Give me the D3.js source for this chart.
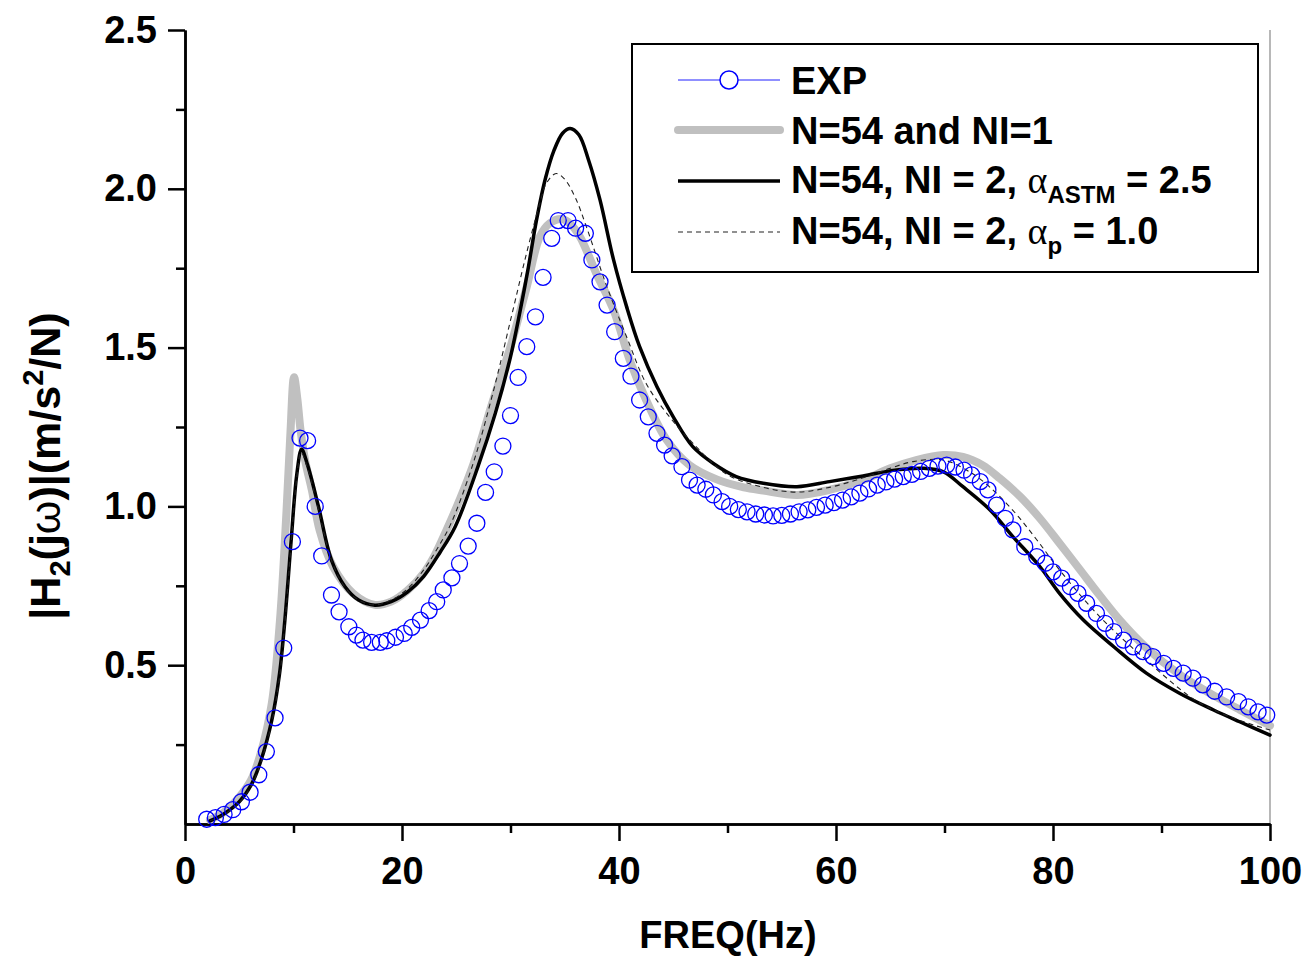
<!DOCTYPE html>
<html>
<head>
<meta charset="utf-8">
<script src="https://cdn.jsdelivr.net/npm/d3@7"></script>
<style>
  body { margin: 0; background: #fff; }
  svg { display: block; font-family: "Liberation Sans", Arial, sans-serif; font-weight: bold; }
</style>
</head>
<body>
<div id="chart"></div>
<script>
// Measured EXP points (frequency in Hz, magnitude).
const expFreq = [2.0, 2.8, 3.6, 4.4, 5.2, 6.0, 6.8, 7.5, 8.3, 9.1, 9.9, 10.6, 11.3, 12.0, 12.6, 13.5, 14.2, 15.1, 15.8, 16.4,
  17.2, 18.0, 18.6, 19.4, 20.2, 20.9, 21.7, 22.5, 23.2, 23.8, 24.6, 25.3, 26.1, 26.9, 27.7, 28.5, 29.3, 30.0, 30.7, 31.5,
  32.3, 33.0, 33.8, 34.4, 35.3, 36.0, 36.9, 37.5, 38.25, 38.9, 39.6, 40.4, 41.1, 41.9, 42.7, 43.5, 44.2, 44.9, 45.8, 46.5,
  47.2, 48.0, 48.7, 49.5, 50.2, 51.0, 51.8, 52.6, 53.4, 54.2, 55.0, 55.8, 56.6, 57.4, 58.2, 59.0, 59.8, 60.6, 61.4, 62.2,
  63.0, 63.8, 64.6, 65.4, 66.2, 67.0, 67.8, 68.6, 69.4, 70.2, 71.0, 71.8, 72.5, 73.3, 74.0, 74.8, 75.6, 76.3, 77.4, 78.5,
  79.3, 80.0, 80.8, 81.6, 82.3, 83.1, 84.0, 84.8, 85.6, 86.5, 87.4, 88.3, 89.2, 90.2, 91.1, 92.0, 92.9, 93.8, 94.9, 96.0,
  97.1, 98.0, 98.9, 99.7];
const expMag = [0.015, 0.02, 0.03, 0.045, 0.07, 0.10, 0.155, 0.228, 0.334, 0.554, 0.889, 1.215, 1.207, 1.0, 0.844, 0.721, 0.668, 0.621, 0.595, 0.579,
  0.572, 0.572, 0.577, 0.588, 0.600, 0.619, 0.642, 0.672, 0.70, 0.737, 0.775, 0.82, 0.875, 0.947, 1.044, 1.109, 1.19, 1.286, 1.406, 1.503,
  1.597, 1.721, 1.844, 1.90, 1.90, 1.876, 1.86, 1.776, 1.707, 1.634, 1.55, 1.466, 1.41, 1.335, 1.282, 1.23, 1.193, 1.159, 1.125, 1.083,
  1.067, 1.054, 1.036, 1.015, 1.0, 0.99, 0.983, 0.976, 0.973, 0.970, 0.972, 0.976, 0.983, 0.989, 0.997, 1.004, 1.012, 1.02, 1.03, 1.042,
  1.055, 1.067, 1.077, 1.086, 1.094, 1.101, 1.11, 1.12, 1.127, 1.13, 1.124, 1.114, 1.099, 1.078, 1.052, 1.004, 0.962, 0.926, 0.873, 0.842,
  0.821, 0.794, 0.774, 0.747, 0.726, 0.695, 0.663, 0.632, 0.606, 0.579, 0.558, 0.543, 0.527, 0.506, 0.49, 0.475, 0.459, 0.438, 0.418, 0.40,
  0.385, 0.369, 0.353, 0.343];

// N=54 and NI=1 (thick grey).
const ni1Freq = [2.3, 3.5, 5.0, 6.1, 7.0, 8.0, 8.75, 9.3, 9.7, 10.05, 10.35, 10.65, 11.1, 11.7, 12.4, 13.65, 15.5, 17.5, 19.0, 20.5,
  22.0, 23.0, 24.1, 25.3, 26.6, 28.4, 30.0, 31.5, 32.7, 33.6, 34.7, 35.5, 36.4, 37.9, 39.5, 41.0, 42.5, 44.4, 46.5, 49.0,
  51.5, 53.3, 56.4, 59.4, 62.5, 65.0, 67.4, 69.9, 71.7, 73.5, 75.1, 77.0, 78.8, 80.6, 82.5, 84.3, 86.2, 88.6, 91.7, 94.8,
  97.2, 100];
const ni1Mag = [0.013, 0.035, 0.085, 0.139, 0.225, 0.38, 0.64, 0.95, 1.22, 1.407, 1.34, 1.24, 1.14, 1.05, 0.926, 0.81, 0.726, 0.69, 0.70, 0.735,
  0.79, 0.845, 0.925, 1.02, 1.135, 1.334, 1.503, 1.692, 1.849, 1.891, 1.905, 1.89, 1.849, 1.734, 1.618, 1.46, 1.335, 1.209, 1.13, 1.085,
  1.06, 1.05, 1.036, 1.052, 1.083, 1.12, 1.146, 1.162, 1.156, 1.13, 1.088, 1.03, 0.962, 0.884, 0.80, 0.72, 0.64, 0.555, 0.47, 0.405,
  0.36, 0.31];

// N=54, NI = 2, alpha_ASTM = 2.5 (solid black).
const astmFreq = [2.3, 3.5, 5.0, 6.1, 7.0, 8.0, 8.7, 9.2, 9.8, 10.3, 10.75, 11.3, 12.3, 13.5, 14.75, 16.0, 17.5, 19.0, 20.5, 22.0,
  23.5, 24.9, 27.0, 28.6, 30.0, 30.9, 31.6, 32.4, 33.2, 34.0, 34.8, 35.5, 36.3, 37.2, 38.25, 39.5, 40.7, 41.9, 43.5, 45.0,
  46.8, 48.7, 50.8, 53.3, 56.4, 59.4, 62.5, 65.6, 68.0, 69.9, 71.7, 74.2, 76.3, 78.8, 80.6, 82.8, 85.6, 88.6, 91.7, 94.8, 97.2, 100];
const astmMag = [0.010, 0.030, 0.070, 0.123, 0.200, 0.327, 0.47, 0.64, 0.90, 1.10, 1.18, 1.13, 1.00, 0.831, 0.747, 0.705, 0.689, 0.70, 0.73, 0.78,
  0.855, 0.936, 1.125, 1.293, 1.471, 1.618, 1.744, 1.902, 2.03, 2.12, 2.175, 2.19, 2.17, 2.09, 1.965, 1.776, 1.629, 1.503, 1.377, 1.282,
  1.188, 1.135, 1.094, 1.073, 1.062, 1.078, 1.096, 1.115, 1.12, 1.109, 1.062, 0.989, 0.905, 0.81, 0.726, 0.642, 0.558, 0.475, 0.411, 0.359, 0.322, 0.28];

// N=54, NI = 2, alpha_p = 1.0 (thin dashed).
const apFreq = [2.3, 3.5, 5.0, 6.1, 7.0, 8.0, 8.7, 9.2, 9.8, 10.3, 10.7, 11.3, 12.3, 13.5, 14.75, 16.0, 17.5, 19.0, 20.5, 22.0,
  23.3, 24.5, 26.6, 28.4, 30.1, 31.5, 32.7, 33.3, 34.2, 35.0, 36.0, 37.0, 38.8, 40.7, 42.5, 44.4, 46.8, 50.0, 53.3, 56.4,
  59.4, 62.5, 65.0, 67.1, 69.9, 72.3, 74.2, 76.5, 78.5, 80.6, 84.3, 88.6, 93.1, 96.5, 100];
const apMag = [0.010, 0.028, 0.068, 0.12, 0.195, 0.32, 0.46, 0.63, 0.89, 1.09, 1.17, 1.12, 0.99, 0.83, 0.745, 0.705, 0.69, 0.705, 0.74, 0.80,
  0.87, 0.945, 1.14, 1.36, 1.60, 1.80, 1.954, 2.017, 2.048, 2.03, 1.97, 1.88, 1.70, 1.534, 1.387, 1.293, 1.199, 1.10, 1.06, 1.045,
  1.06, 1.09, 1.12, 1.141, 1.146, 1.109, 1.06, 0.98, 0.895, 0.80, 0.653, 0.516, 0.39, 0.335, 0.296];

const xMajorTicks = [0, 20, 40, 60, 80, 100];
const xMinorTicks = [10, 30, 50, 70, 90];
const yMajorTicks = [0.5, 1.0, 1.5, 2.0, 2.5];
const yMinorTicks = [0.25, 0.75, 1.25, 1.75, 2.25];

const attrs = {
  svgWidth: 1306,
  svgHeight: 957,
  marginLeft: 185,
  marginTop: 30,
  chartWidth: 1085,
  chartHeight: 794,
  fontSize: 38,
};

const pairs = (xs, ys) => xs.map((x, i) => ({ x: x, y: ys[i] }));

const svg = d3.select('#chart')
  .append('svg')
  .attr('width', attrs.svgWidth)
  .attr('height', attrs.svgHeight);

const chart = svg.append('g')
  .attr('transform', 'translate(' + attrs.marginLeft + ',' + attrs.marginTop + ')');

// Scales.
const xScale = d3.scaleLinear().domain([0, 100]).range([0, attrs.chartWidth]);
const yScale = d3.scaleLinear().domain([0, 2.5]).range([attrs.chartHeight, 0]);

// Right frame line.
chart.append('line')
  .attr('x1', attrs.chartWidth).attr('x2', attrs.chartWidth)
  .attr('y1', 0).attr('y2', attrs.chartHeight)
  .attr('stroke', '#888').attr('stroke-width', 1.2);

// Axes.
function styleAxis(g) {
  g.select('.domain').attr('stroke', '#000').attr('stroke-width', 2.5);
  g.selectAll('.tick line').attr('stroke', '#000').attr('stroke-width', 2.5);
  g.selectAll('.tick text')
    .attr('fill', '#000')
    .style('font-size', attrs.fontSize + 'px')
    .style('font-weight', 'bold')
    .style('font-family', '"Liberation Sans", Arial, sans-serif');
}

chart.append('g')
  .attr('transform', 'translate(0,' + attrs.chartHeight + ')')
  .call(d3.axisBottom(xScale).tickValues(xMinorTicks).tickSize(9).tickSizeOuter(0).tickFormat(''))
  .call(styleAxis);

chart.append('g')
  .attr('transform', 'translate(0,' + attrs.chartHeight + ')')
  .call(d3.axisBottom(xScale).tickValues(xMajorTicks).tickSize(17).tickSizeOuter(0).tickPadding(16).tickFormat(d3.format('d')))
  .call(styleAxis);

chart.append('g')
  .call(d3.axisLeft(yScale).tickValues(yMinorTicks).tickSize(9).tickSizeOuter(0).tickFormat(''))
  .call(styleAxis);

chart.append('g')
  .call(d3.axisLeft(yScale).tickValues(yMajorTicks).tickSize(17).tickSizeOuter(0).tickPadding(11).tickFormat(d3.format('.1f')))
  .call(styleAxis);

// Line generator.
const line = d3.line()
  .x(d => xScale(d.x))
  .y(d => yScale(d.y))
  .curve(d3.curveCatmullRom.alpha(0.5));

// Model curves.
chart.append('path')
  .datum(pairs(ni1Freq, ni1Mag))
  .attr('d', line)
  .attr('fill', 'none')
  .attr('stroke', '#c0c0c0')
  .attr('stroke-width', 8)
  .attr('stroke-linejoin', 'round')
  .attr('stroke-linecap', 'round');

chart.append('path')
  .datum(pairs(astmFreq, astmMag))
  .attr('d', line)
  .attr('fill', 'none')
  .attr('stroke', '#000')
  .attr('stroke-width', 3.5)
  .attr('stroke-linecap', 'round');

chart.append('path')
  .datum(pairs(apFreq, apMag))
  .attr('d', line)
  .attr('fill', 'none')
  .attr('stroke', '#222')
  .attr('stroke-width', 1.1)
  .attr('stroke-dasharray', '5 4');

// EXP circles.
chart.selectAll('.exp-point')
  .data(pairs(expFreq, expMag))
  .enter()
  .append('circle')
  .attr('class', 'exp-point')
  .attr('cx', d => xScale(d.x))
  .attr('cy', d => yScale(d.y))
  .attr('r', 8)
  .attr('fill', 'none')
  .attr('stroke', '#0000ff')
  .attr('stroke-width', 1.3);

// Axis titles.
svg.append('text')
  .attr('x', 728)
  .attr('y', 948)
  .attr('text-anchor', 'middle')
  .style('font-size', attrs.fontSize + 'px')
  .text('FREQ(Hz)');

const yTitle = svg.append('text')
  .attr('transform', 'translate(60,466) rotate(-90)')
  .attr('text-anchor', 'middle')
  .style('font-size', '43px');
yTitle.append('tspan').text('|H');
yTitle.append('tspan').attr('dy', 10).style('font-size', '29px').text('2');
yTitle.append('tspan').attr('dy', -10).text('(j');
yTitle.append('tspan').style('font-weight', 'normal').text('ω');
yTitle.append('tspan').text(')|(m/s');
yTitle.append('tspan').attr('dy', -17).style('font-size', '29px').text('2');
yTitle.append('tspan').attr('dy', 17).text('/N)');

// Legend.
const legend = svg.append('g');
legend.append('rect')
  .attr('x', 632).attr('y', 44)
  .attr('width', 626).attr('height', 228)
  .attr('fill', '#fff')
  .attr('stroke', '#000')
  .attr('stroke-width', 2);

const rowY = [80, 130, 181, 232];
const sx0 = 678, sx1 = 780, tx = 791;

legend.append('line')
  .attr('x1', sx0).attr('x2', sx1).attr('y1', rowY[0]).attr('y2', rowY[0])
  .attr('stroke', '#2020ff').attr('stroke-width', 1);
legend.append('circle')
  .attr('cx', 729).attr('cy', rowY[0]).attr('r', 9)
  .attr('fill', '#fff').attr('stroke', '#0000ff').attr('stroke-width', 1.5);

legend.append('line')
  .attr('x1', sx0).attr('x2', sx1).attr('y1', rowY[1]).attr('y2', rowY[1])
  .attr('stroke', '#c0c0c0').attr('stroke-width', 8).attr('stroke-linecap', 'round');

legend.append('line')
  .attr('x1', sx0).attr('x2', sx1).attr('y1', rowY[2]).attr('y2', rowY[2])
  .attr('stroke', '#000').attr('stroke-width', 3.5);

legend.append('line')
  .attr('x1', sx0).attr('x2', sx1).attr('y1', rowY[3]).attr('y2', rowY[3])
  .attr('stroke', '#222').attr('stroke-width', 1.1).attr('stroke-dasharray', '5 4');

function legendText(y) {
  return legend.append('text')
    .attr('x', tx).attr('y', y)
    .style('font-size', attrs.fontSize + 'px');
}

legendText(rowY[0] + 14).text('EXP');
legendText(rowY[1] + 14).text('N=54 and NI=1');

const t3 = legendText(rowY[2] + 12);
t3.append('tspan').text('N=54, NI = 2, ');
t3.append('tspan').style('font-weight', 'normal').style('font-family', '"Liberation Serif", serif').text('α');
t3.append('tspan').attr('dy', 10).style('font-size', '24px').text('ASTM');
t3.append('tspan').attr('dy', -10).text(' = 2.5');

const t4 = legendText(rowY[3] + 12);
t4.append('tspan').text('N=54, NI = 2, ');
t4.append('tspan').style('font-weight', 'normal').style('font-family', '"Liberation Serif", serif').text('α');
t4.append('tspan').attr('dy', 10).style('font-size', '24px').text('p');
t4.append('tspan').attr('dy', -10).text(' = 1.0');
</script>
</body>
</html>
